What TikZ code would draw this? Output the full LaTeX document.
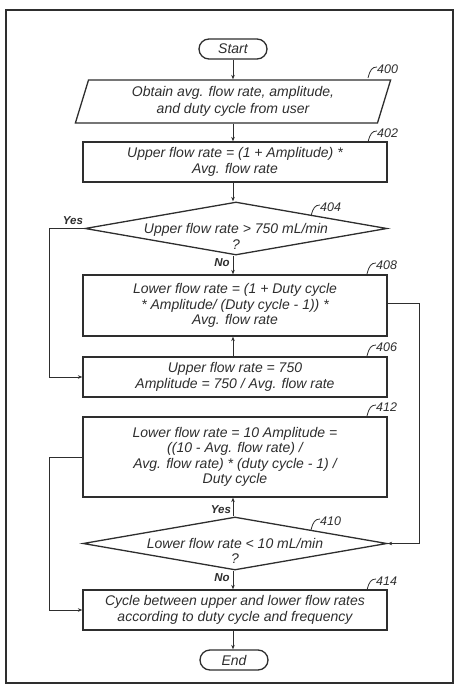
\documentclass[tikz,border=0pt]{standalone}
\usepackage{fontspec}
\setmainfont{Liberation Sans}
\usetikzlibrary{shapes.geometric,arrows.meta}
\definecolor{ink}{gray}{0.18}
\begin{document}
\begin{tikzpicture}[x=1pt,y=-1pt,
  every node/.style={font=\itshape\fontsize{14}{15.5}\selectfont, text=ink},
  box/.style={draw=ink, line width=1.3pt, minimum width=304pt, minimum height=#1, inner sep=0pt, align=center},
  term/.style={draw=ink, line width=1.3pt, rounded corners=10pt, minimum width=68pt, minimum height=20pt, inner sep=0pt},
  dia/.style={draw=ink, line width=1.3pt, diamond, minimum width=#1, minimum height=53pt, inner sep=0pt},
  dtext/.style={align=center, inner sep=0pt},
  ref/.style={font=\itshape\fontsize{12.5}{13}\selectfont, inner sep=0pt, anchor=west},
  yn/.style={font=\bfseries\itshape\fontsize{11.5}{12}\selectfont, inner sep=0pt},
  lead/.style={draw=ink, line width=0.8pt},
  conn/.style={draw=ink, line width=1pt, -{Stealth[length=4.5pt,width=3.5pt]}},
  line/.style={draw=ink, line width=1pt}
]
\useasboundingbox (0,0) rectangle (454,684);
\fill[white] (0,0) rectangle (454,684);
\draw[ink, line width=1.4pt] (6,10) rectangle (453,683);

% nodes
\node[term] (start) at (233,49) {Start};
\node[draw=ink, line width=1.3pt, trapezium, trapezium left angle=73, trapezium right angle=107,
      minimum width=301pt, minimum height=43pt, inner sep=0pt, align=center] (p400) at (233,101.5)
      {Obtain avg. flow rate, amplitude,\\[1.5pt]and duty cycle from user};
\node[box=40pt] (b402) at (235,162) {Upper flow rate = (1 + Amplitude) *\\Avg. flow rate};
\node[dia=302pt] (d404) at (236,228.5) {};
\node[dtext] (t404) at (236,236.5) {Upper flow rate > 750 mL/min\\?};
\node[box=61pt] (b408) at (235,305.5) {Lower flow rate = (1 + Duty cycle\\* Amplitude/ (Duty cycle - 1)) *\\Avg. flow rate};
\node[box=40pt] (b406) at (235,377) {Upper flow rate = 750\\Amplitude = 750 / Avg. flow rate};
\node[box=80pt] (b412) at (235,457) {Lower flow rate = 10 Amplitude =\\((10 - Avg. flow rate) /\\Avg. flow rate) * (duty cycle - 1) /\\Duty cycle};
\node[dia=304pt] (d410) at (235,543.5) {};
\node[dtext] (t410) at (235,551) {Lower flow rate < 10 mL/min\\?};
\node[box=40pt] (b414) at (235,610) {Cycle between upper and lower flow rates\\according to duty cycle and frequency};
\node[term] (end) at (234,660) {End};

% reference numerals
\node[ref] (r400) at (377,69) {400};
\node[ref] (r402) at (377,133) {402};
\node[ref] (r404) at (320,207) {404};
\node[ref] (r408) at (376,265) {408};
\node[ref] (r406) at (376,347) {406};
\node[ref] (r412) at (376,407) {412};
\node[ref] (r410) at (320,521) {410};
\node[ref] (r414) at (376,581) {414};
\foreach \r in {r400,r402,r404,r408,r406,r412,r410,r414}{
  \draw[lead] ([shift={(-9,9)}]\r.west) .. controls ([shift={(-7,1)}]\r.west) and ([shift={(-5,-2)}]\r.west) .. ([shift={(0,-2)}]\r.west);
}

% yes / no labels
\node[yn] (y404) at (73,221) {Yes};
\node[yn] (n404) at (222,263) {No};
\node[yn] (y410) at (221,510) {Yes};
\node[yn] (n410) at (222,578) {No};

% connector corner coordinates
\coordinate (c1) at (49,228.5);
\coordinate (c2) at (49,377);
\coordinate (c3) at (419,303);
\coordinate (c4) at (419,543.5);
\coordinate (c5) at (49,457);
\coordinate (c6) at (49,610);

% connectors
\draw[conn] (start.south) -- (start.south |- p400.north);
\draw[conn] (start.south |- p400.south) -- (start.south |- b402.north);
\draw[conn] (start.south |- b402.south) -- (start.south |- d404.north);
\draw[conn] (start.south |- d404.south) -- (start.south |- b408.north);
\draw[conn] (start.south |- b406.north) -- (start.south |- b408.south);
\draw[conn] (d404.west) -- (c1) -- (c2) -- (b406.west);
\draw[conn] (b408.east |- c3) -- (c3) -- (c4) -- (d410.east);
\draw[conn] (start.south |- d410.north) -- (start.south |- b412.south);
\draw[conn] (b412.west) -- (c5) -- (c6) -- (b414.west);
\draw[conn] (start.south |- d410.south) -- (start.south |- b414.north);
\draw[conn] (start.south |- b414.south) -- (start.south |- end.north);
\end{tikzpicture}
\end{document}
